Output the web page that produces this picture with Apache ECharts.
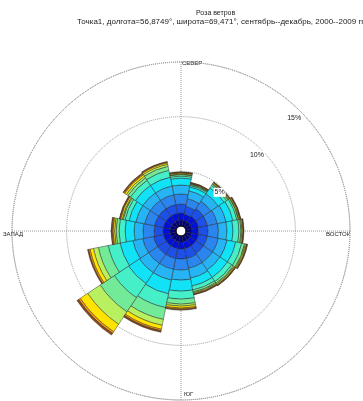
<!DOCTYPE html>
<html><head><meta charset="utf-8">
<script src="https://cdn.jsdelivr.net/npm/echarts@6/dist/echarts.min.js"></script>
<style>html,body{margin:0;padding:0;background:#fff}#c{width:363px;height:401px}</style>
</head><body><div id="c"></div>
<script>
// 16 directions, clockwise from north
const directions = ['С','ССВ','СВ','ВСВ','В','ВЮВ','ЮВ','ЮЮВ','Ю','ЮЮЗ','ЮЗ','ЗЮЗ','З','ЗСЗ','СЗ','ССЗ'];
// frequency (%) of each wind-speed class per direction
const cls1  = [0.55,0.55,0.55,0.55,0.55,0.55,0.55,0.55,0.55,0.55,0.55,0.55,0.55,0.55,0.55,0.55];
const cls2  = [0.64,0.55,0.64,0.64,0.59,0.64,0.64,0.64,0.64,0.64,0.64,0.64,0.64,0.64,0.64,0.64];
const cls3  = [0.82,0.73,0.82,0.82,0.87,0.82,0.82,0.92,0.92,0.92,0.92,0.92,0.82,0.82,0.82,0.82];
const cls4  = [0.92,0.73,0.82,0.92,0.96,1.01,1.01,0.92,1.01,1.01,1.01,1.01,1.01,0.92,0.92,0.92];
const cls5  = [0.82,0.73,0.82,0.82,0.78,0.82,0.82,0.92,0.92,1.01,1.01,0.92,0.82,0.82,0.82,0.82];
const cls6  = [0.64,0.37,0.64,0.64,0.55,0.82,0.82,0.73,1.01,1.28,1.19,1.19,0.82,0.64,0.82,0.82];
const cls7  = [0.18,0.14,0.27,0.37,0.55,0.55,0.46,0.37,0.73,1.28,1.56,1.10,0.55,0.37,0.55,0.64];
const cls8  = [0.14,0.09,0.14,0.14,0.18,0.27,0.18,0.18,0.46,1.10,1.56,0.92,0.27,0.18,0.27,0.37];
const cls9  = [0.05,0.05,0.05,0.05,0.09,0.09,0.09,0.09,0.18,0.55,1.37,0.46,0.14,0.09,0.18,0.18];
const cls10 = [0.09,0.05,0.09,0.09,0.09,0.09,0.09,0.09,0.18,0.37,0.82,0.32,0.14,0.14,0.18,0.14];
const cls11 = [0.05,0.05,0.05,0.05,0.05,0.05,0.05,0.05,0.09,0.14,0.18,0.14,0.09,0.07,0.09,0.07];
const cls12 = [0.05,0.05,0.05,0.05,0.05,0.05,0.05,0.05,0.09,0.14,0.18,0.09,0.09,0.06,0.09,0.06];
const classes = [cls1,cls2,cls3,cls4,cls5,cls6,cls7,cls8,cls9,cls10,cls11,cls12];
const classColors = ['#00007f','#0010d8','#1c50e6','#2a86ee','#27b4f5','#12e2f5','#45f0c8','#72ea98','#b8f060','#ffe400','#ff9a10','#8a4a18'];
const ringTicks = [5,10,15];
const compass = {north:'СЕВЕР', east:'ВОСТОК', south:'ЮГ', west:'ЗАПАД'};
const title1 = 'Роза ветров';
const title2 = 'Точка1, долгота=56,8749°, широта=69,471°, сентябрь--декабрь, 2000--2009 гг';

const chart = echarts.init(document.getElementById('c'), null, {renderer:'canvas'});
const C = [181, 231];
const FONT = '"Liberation Sans", Arial, sans-serif';
const dotted = {color:'#999', type:'dotted', width:1};
const option = {
  animation:false,
  backgroundColor:'#fff',
  polar:[
    {center:C, radius:[5,169]},
    {center:C, radius:[5,169]},
    {center:C, radius:[2,160]},
    {center:C, radius:[0,5]}
  ],
  angleAxis:[
    {polarIndex:0, type:'category', data:directions, startAngle:101.25, clockwise:true, boundaryGap:true,
     axisLine:{show:false}, axisTick:{show:false}, axisLabel:{show:false}, splitLine:{show:false}},
    {polarIndex:1, type:'value', min:0, max:360, interval:90, startAngle:90, clockwise:true,
     axisLine:{show:true, lineStyle:dotted}, axisTick:{show:false}, axisLabel:{show:false},
     splitLine:{show:true, lineStyle:dotted}},
    {polarIndex:2, type:'value', min:0, max:360, startAngle:45, show:false},
    {polarIndex:3, type:'value', min:0, max:360, axisLine:{show:true, lineStyle:{color:'#000', width:1}},
     axisTick:{show:false}, axisLabel:{show:false}, splitLine:{show:false}, z:10}
  ],
  radiusAxis:[
    {polarIndex:0, type:'value', min:0, max:15, show:false},
    {polarIndex:1, type:'value', min:0, max:15, interval:5, axisLine:{show:false}, axisTick:{show:false},
     axisLabel:{show:false}, splitLine:{show:true, lineStyle:dotted}},
    {polarIndex:2, type:'value', min:0, max:15, interval:5, axisLine:{show:false}, axisTick:{show:false},
     splitLine:{show:false}, z:10,
     axisLabel:{show:true, margin:0, rotate:0, align:'center', verticalAlign:'middle',
       formatter:v => ringTicks.includes(v) ? v + '%' : '',
       fontSize:7, fontFamily:FONT, color:'#222', backgroundColor:'#fff', padding:[1,1]}},
    {polarIndex:3, type:'value', min:0, max:1, show:false}
  ],
  graphic:[
    {type:'text', left:196, top:10, style:{text:title1, fontSize:7, fontFamily:FONT, fill:'#222'}},
    {type:'text', left:77, top:18, style:{text:title2, fontSize:8, fontFamily:FONT, fill:'#222'}},
    {type:'text', left:182, top:60, style:{text:compass.north, fontSize:6, fontFamily:FONT, fill:'#222'}},
    {type:'text', left:3, top:231, style:{text:compass.west, fontSize:6, fontFamily:FONT, fill:'#222'}},
    {type:'text', left:326, top:231, style:{text:compass.east, fontSize:6, fontFamily:FONT, fill:'#222'}},
    {type:'text', left:184, top:391, style:{text:compass.south, fontSize:6, fontFamily:FONT, fill:'#222'}}
  ],
  series: classes.map((d,i) => ({
    type:'bar', coordinateSystem:'polar', polarIndex:0, stack:'speed', name:'v'+(i+1),
    data:d, barCategoryGap:'0%', barGap:'0%',
    itemStyle:{color:classColors[i], borderColor:'#222', borderWidth:0.45}
  }))
};
chart.setOption(option);
</script></body></html>
